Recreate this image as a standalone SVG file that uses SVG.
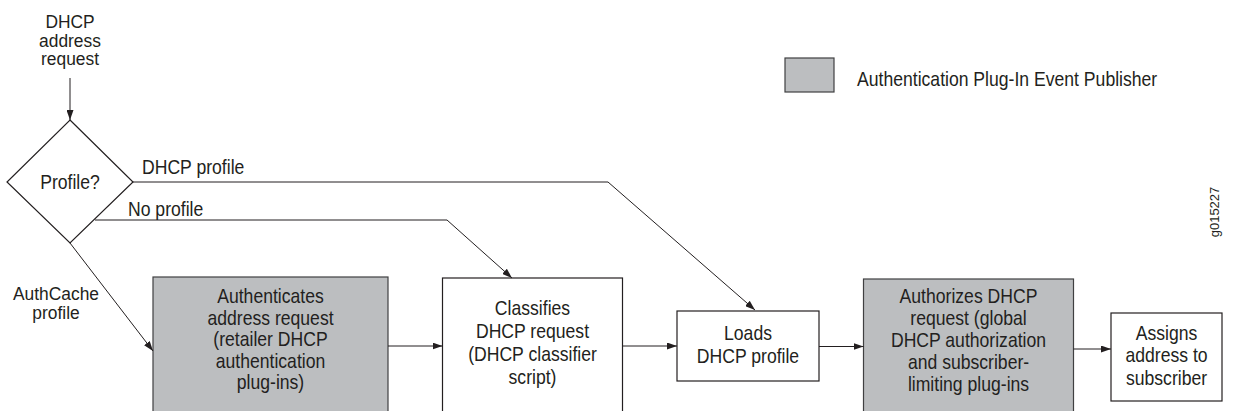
<svg xmlns="http://www.w3.org/2000/svg" width="1233" height="411" viewBox="0 0 1233 411">
<defs>
<marker id="arr" markerWidth="10" markerHeight="7" refX="10" refY="3.5" orient="auto" markerUnits="userSpaceOnUse">
<path d="M0,0 L10,3.5 L0,7 z" fill="#231f20"/>
</marker>
<style>
.t{font-family:"Liberation Sans",Arial,sans-serif;font-size:20px;fill:#231f20}
.s{font-size:18.5px}
.c{text-anchor:middle}
.box{fill:#ffffff;stroke:#231f20;stroke-width:1.2}
.gray{fill:#bcbec0;stroke:#404041;stroke-width:1.2}
.ln{fill:none;stroke:#231f20;stroke-width:1}
</style>
</defs>
<rect width="1233" height="411" fill="#ffffff"/>

<g id="start">
<text class="t s c" transform="translate(70 0) scale(0.94 1)"><tspan x="0" y="28.5">DHCP</tspan><tspan x="0" y="47">address</tspan><tspan x="0" y="65.5">request</tspan></text>
</g>

<g id="decision">
<polygon class="box" points="70,120 133,182 70,243 7,182"/>
<text class="t c" transform="translate(70 0) scale(0.88 1)" x="0" y="189">Profile?</text>
</g>

<g id="authenticate">
<rect class="gray" x="153" y="277" width="235" height="140"/>
<text class="t c" transform="translate(270.5 0) scale(0.88 1)"><tspan x="0" y="303">Authenticates</tspan><tspan x="0" y="325">address request</tspan><tspan x="0" y="346.5">(retailer DHCP</tspan><tspan x="0" y="368">authentication</tspan><tspan x="0" y="389.5">plug-ins)</tspan></text>
</g>

<g id="classify">
<rect class="box" x="442.5" y="278" width="180" height="140"/>
<text class="t c" transform="translate(532.5 0) scale(0.88 1)"><tspan x="0" y="315">Classifies</tspan><tspan x="0" y="338">DHCP request</tspan><tspan x="0" y="361">(DHCP classifier</tspan><tspan x="0" y="384">script)</tspan></text>
</g>

<g id="load">
<rect class="box" x="677" y="311" width="142" height="70"/>
<text class="t c" transform="translate(748 0) scale(0.88 1)"><tspan x="0" y="340">Loads</tspan><tspan x="0" y="363">DHCP profile</tspan></text>
</g>

<g id="authorize">
<rect class="gray" x="863.5" y="279" width="210" height="140"/>
<text class="t c" transform="translate(968.5 0) scale(0.88 1)"><tspan x="0" y="303">Authorizes DHCP</tspan><tspan x="0" y="325">request (global</tspan><tspan x="0" y="347.5">DHCP authorization</tspan><tspan x="0" y="369.5">and subscriber-</tspan><tspan x="0" y="391.5">limiting plug-ins</tspan></text>
</g>

<g id="assign">
<rect class="box" x="1111" y="313" width="111" height="88"/>
<text class="t c" transform="translate(1166.5 0) scale(0.88 1)"><tspan x="0" y="340">Assigns</tspan><tspan x="0" y="362.5">address to</tspan><tspan x="0" y="385">subscriber</tspan></text>
</g>

<g id="legend">
<rect class="gray" x="785" y="58" width="49" height="34"/>
<text class="t" transform="translate(857 0) scale(0.88 1)" x="0" y="86">Authentication Plug-In Event Publisher</text>
</g>

<g id="figure-id">
<text style="font-family:'Liberation Sans',Arial,sans-serif;font-size:13px;fill:#231f20" text-anchor="middle" transform="translate(1219 212) rotate(-90)" x="0" y="0">g015227</text>
</g>

<g id="connectors">
<path class="ln" d="M70,78 L70,120" marker-end="url(#arr)"/>
<path class="ln" d="M133,182 L608,182 L755,310" marker-end="url(#arr)"/>
<path class="ln" d="M95,220 L447,220 L512,278" marker-end="url(#arr)"/>
<path class="ln" d="M70,243 L153,351" marker-end="url(#arr)"/>
<path class="ln" d="M388,346 L442.5,346" marker-end="url(#arr)"/>
<path class="ln" d="M622.5,346 L677,346" marker-end="url(#arr)"/>
<path class="ln" d="M819,346.5 L863.5,346.5" marker-end="url(#arr)"/>
<path class="ln" d="M1073.5,349 L1111,349" marker-end="url(#arr)"/>
<text class="t" transform="translate(142 0) scale(0.88 1)" x="0" y="174">DHCP profile</text>
<text class="t" transform="translate(128 0) scale(0.88 1)" x="0" y="216">No profile</text>
<text class="t s c" transform="translate(56 0) scale(0.94 1)"><tspan x="0" y="300">AuthCache</tspan><tspan x="0" y="319">profile</tspan></text>
</g>
</svg>
